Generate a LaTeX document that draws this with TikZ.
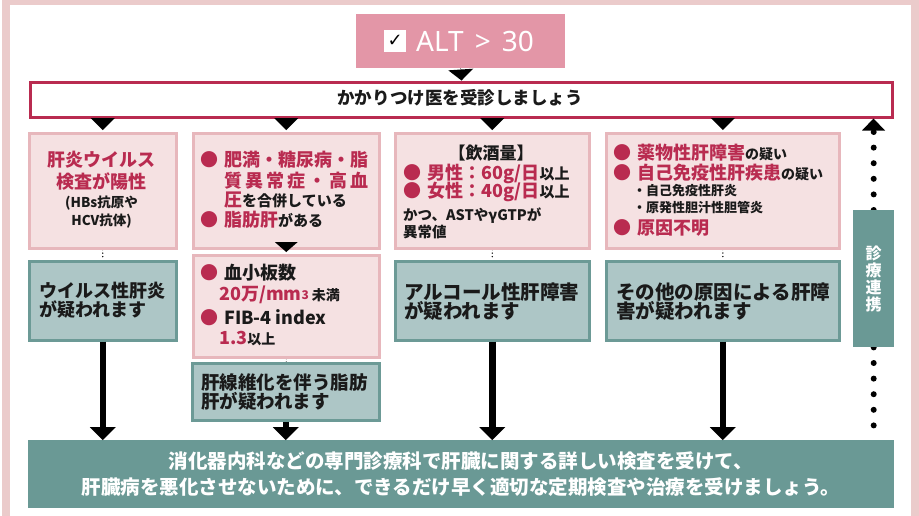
\documentclass[tikz,border=0pt]{standalone}
\usepackage{fontspec}
\setmainfont{Noto Sans CJK JP}
\newfontfamily\djv{DejaVu Sans}
\newfontfamily\ns{Noto Sans}
\usetikzlibrary{arrows.meta,backgrounds}
\definecolor{framepink}{HTML}{EBCBCB}
\definecolor{altpink}{HTML}{E396A7}
\definecolor{crim}{HTML}{B92B50}
\definecolor{pinkfill}{HTML}{F5E1E2}
\definecolor{pinkline}{HTML}{E7B7BC}
\definecolor{greenfill}{HTML}{ADC6C6}
\definecolor{greenline}{HTML}{6C9A96}
\definecolor{teal}{HTML}{6A9995}
\definecolor{ink}{HTML}{1A1A1A}
\newcommand\fs[1]{\fontsize{#1}{#1}\selectfont}
\newcommand\hl[1]{\textcolor{crim}{#1}}
\newcommand\bul{\hl{●}\hspace{6pt}}
\begin{document}
\begin{tikzpicture}[x=1pt,y=-1pt,
  pbox/.style={draw=pinkline, fill=pinkfill, line width=2.5pt, anchor=north west, inner sep=0},
  gbox/.style={draw=greenline, fill=greenfill, line width=2.5pt, anchor=north west, inner sep=0},
  tbox/.style={fill=teal, anchor=north west, inner sep=0},
  tx/.style={inner sep=0, anchor=base west, text=ink, font=\bfseries\fs{18}},
  txc/.style={inner sep=0, anchor=base, text=ink, font=\bfseries\fs{18}},
  tri/.style={-{Triangle[width=24pt,length=12pt,line width=0pt]}, line width=0.5pt, black},
  bigarr/.style={-{Triangle[width=26pt,length=13pt,line width=0pt]}, line width=6.5pt, black},
  bigdots/.style={line width=6pt, dash pattern=on 0pt off 15.6pt, line cap=round, black},
  tinydots/.style={line width=1.5pt, dash pattern=on 0pt off 3.5pt, line cap=round, black}]
\useasboundingbox (0,0) rectangle (919,515);
\draw[framepink, line width=8pt] (6,1) rectangle (915,540);

% top
\node[fill=altpink, anchor=north west, minimum width=209pt, minimum height=54pt, inner sep=0] (alt) at (356,14) {};
\node[fill=white, anchor=north west, minimum width=22pt, minimum height=22pt, inner sep=0] (chk) at (384,30) {};
\node[inner sep=0, font=\djv\fs{18}] (chkm) at (chk.center) {✓};
\node[inner sep=0, anchor=base west, text=white, font=\ns\fs{28}] (altt) at (416,51) {ALT\hspace{11pt}>\hspace{11pt}30};

\node[draw=crim, fill=white, line width=3pt, anchor=north west, minimum width=862pt, minimum height=35pt, inner sep=0] (kk) at (29,80.5) {};
\node[txc, font=\bfseries\fs{17.5}] (kkt) at (460,104) {かかりつけ医を受診しましょう};

% row 1 boxes
\node[pbox, minimum width=147pt, minimum height=115pt] (b1) at (28,132) {};
\node[pbox, minimum width=186pt, minimum height=115pt] (b2) at (192,132) {};
\node[pbox, minimum width=194pt, minimum height=115pt] (b3) at (394,132) {};
\node[pbox, minimum width=233pt, minimum height=115pt] (b4) at (605,132) {};
\node[pbox, minimum width=186pt, minimum height=102pt] (b2b) at (192,254) {};

% green boxes
\node[gbox, minimum width=147pt, minimum height=79pt] (g1) at (28,260) {};
\node[gbox, minimum width=187pt, minimum height=57pt] (g2) at (191,362) {};
\node[gbox, minimum width=194pt, minimum height=79pt] (g3) at (394,260) {};
\node[gbox, minimum width=233pt, minimum height=79pt] (g4) at (605,260) {};

% bar and bottom
\node[tbox, minimum width=41pt, minimum height=137pt] (bar) at (853,210) {};
\node[inner sep=0, align=center, text=white, font=\bfseries\fs{16}, text depth=0pt] (bart) at (bar.center) {診\\[1pt]療\\[1pt]連\\[1pt]携};
\node[tbox, minimum width=866pt, minimum height=68pt] (bot) at (28,440) {};
\node[txc, text=white, font=\bfseries\fs{19.5}] (bot1) at (461,468) {消化器内科などの専門診療科で肝臓に関する詳しい検査を受けて、};
\node[txc, text=white, font=\bfseries\fs{19.5}] (bot2) at (461,494) {肝臓病を悪化させないために、できるだけ早く適切な定期検査や治療を受けましょう。};

% box 1 text
\node[txc, text=crim] (t11) at (101.5,166) {肝炎ウイルス};
\node[txc, text=crim] (t12) at (101.5,188) {検査が陽性};
\node[txc, font=\bfseries\fs{13.5}] (t13) at (101.5,207) {(HBs抗原や};
\node[txc, font=\bfseries\fs{13.5}] (t14) at (101.5,225) {HCV抗体)};

% box 2 text
\node[tx] (t21) at (200,166) {\bul\hl{肥満・糖尿病・脂}};
\node[tx, text=crim] (t22) at (224,187) {\hbox to 144pt{質\hfil 異\hfil 常\hfil 症\hfil ・\hfil 高\hfil 血}};
\node[tx] (t23) at (224,206) {\hl{圧}{\fs{15}を合併している}};
\node[tx] (t24) at (200,226) {\bul\hl{脂肪肝}{\fs{15}がある}};

% box 2b text
\node[tx] (t51) at (200,279) {\bul 血小板数};
\node[tx] (t52) at (219,300) {\hl{20万/mm\raisebox{0.5pt}{\fs{12}3}}\hspace{3pt}{\fs{14}未満}};
\node[tx] (t53) at (200,324) {\bul FIB-4 index};
\node[tx] (t54) at (219,344) {\hl{1.3}{\fs{14}以上}};

% box 3 text
\node[txc, font=\bfseries\fs{17}] (t31) at (491,159) {【飲酒量】};
\node[tx] (t32) at (403,179) {\bul\hl{男性：60g/日}{\fs{15}以上}};
\node[tx] (t33) at (403,197) {\bul\hl{女性：40g/日}{\fs{15}以上}};
\node[tx, font=\bfseries\fs{14.5}] (t34) at (403,220) {かつ、ASTやγGTPが};
\node[tx, font=\bfseries\fs{14.5}] (t35) at (403,237) {異常値};

% box 4 text
\node[tx] (t41) at (613,159) {\bul\hl{薬物性肝障害}{\fs{14}の疑い}};
\node[tx] (t42) at (613,179) {\bul\hl{自己免疫性肝疾患}{\fs{14}の疑い}};
\node[tx, font=\bfseries\fs{13}] (t43) at (633,195) {・自己免疫性肝炎};
\node[tx, font=\bfseries\fs{13}] (t44) at (633,212) {・原発性胆汁性胆管炎};
\node[tx] (t45) at (613,234) {\bul\hl{原因不明}};

% green text
\node[tx] (g1a) at (39,297) {ウイルス性肝炎};
\node[tx] (g1b) at (39,316) {が疑われます};
\node[tx, font=\bfseries\fs{18.5}] (g2a) at (201,389) {肝線維化を伴う脂肪};
\node[tx, font=\bfseries\fs{18.5}] (g2b) at (201,408) {肝が疑われます};
\node[tx, font=\bfseries\fs{19.5}] (g3a) at (404,299) {アルコール性肝障害};
\node[tx, font=\bfseries\fs{19.5}] (g3b) at (404,318) {が疑われます};
\node[tx, font=\bfseries\fs{19.5}] (g4a) at (616,299) {その他の原因による肝障};
\node[tx, font=\bfseries\fs{19.5}] (g4b) at (616,318) {害が疑われます};

% connectors
\draw[tri, -{Triangle[width=25pt,length=11pt,line width=0pt]}] (alt.south) -- (kk.north);
\draw[tri, shorten >=2pt] (kk.south -| b1.north) -- (b1.north);
\draw[tri, shorten >=2pt] (kk.south -| b2.north) -- (b2.north);
\draw[tri, shorten >=2pt] (kk.south -| b3.north) -- (b3.north);
\draw[tri, shorten >=2pt] (kk.south -| b4.north) -- (b4.north);
\draw[tri, -{Triangle[width=23pt,length=10pt,line width=0pt]}, shorten >=2pt] (b2.south) -- (b2b.north);

\coordinate (ut) at (873.5,127);
\draw[tri, -{Triangle[width=23pt,length=12pt,line width=0pt]}] (ut) -- (ut |- kk.south);

\begin{scope}[on background layer]
\draw[bigdots] (bar.north) -- (bar.north |- ut);
\draw[bigdots] (bar.south) -- (bar.south |- bot.north);
\draw[tinydots] (b1.south) -- (g1.north);
\draw[tinydots] (b2b.south) -- (b2b.south |- g2.north);
\draw[tinydots] (b3.south) -- (g3.north);
\draw[tinydots] (b4.south) -- (g4.north);
\end{scope}

\draw[bigarr] (g1.south) -- (g1.south |- bot.north);
\draw[bigarr] (g2.south) -- (g2.south |- bot.north);
\draw[bigarr] (g3.south) -- (g3.south |- bot.north);
\draw[bigarr] (g4.south) -- (g4.south |- bot.north);
\end{tikzpicture}
\end{document}
